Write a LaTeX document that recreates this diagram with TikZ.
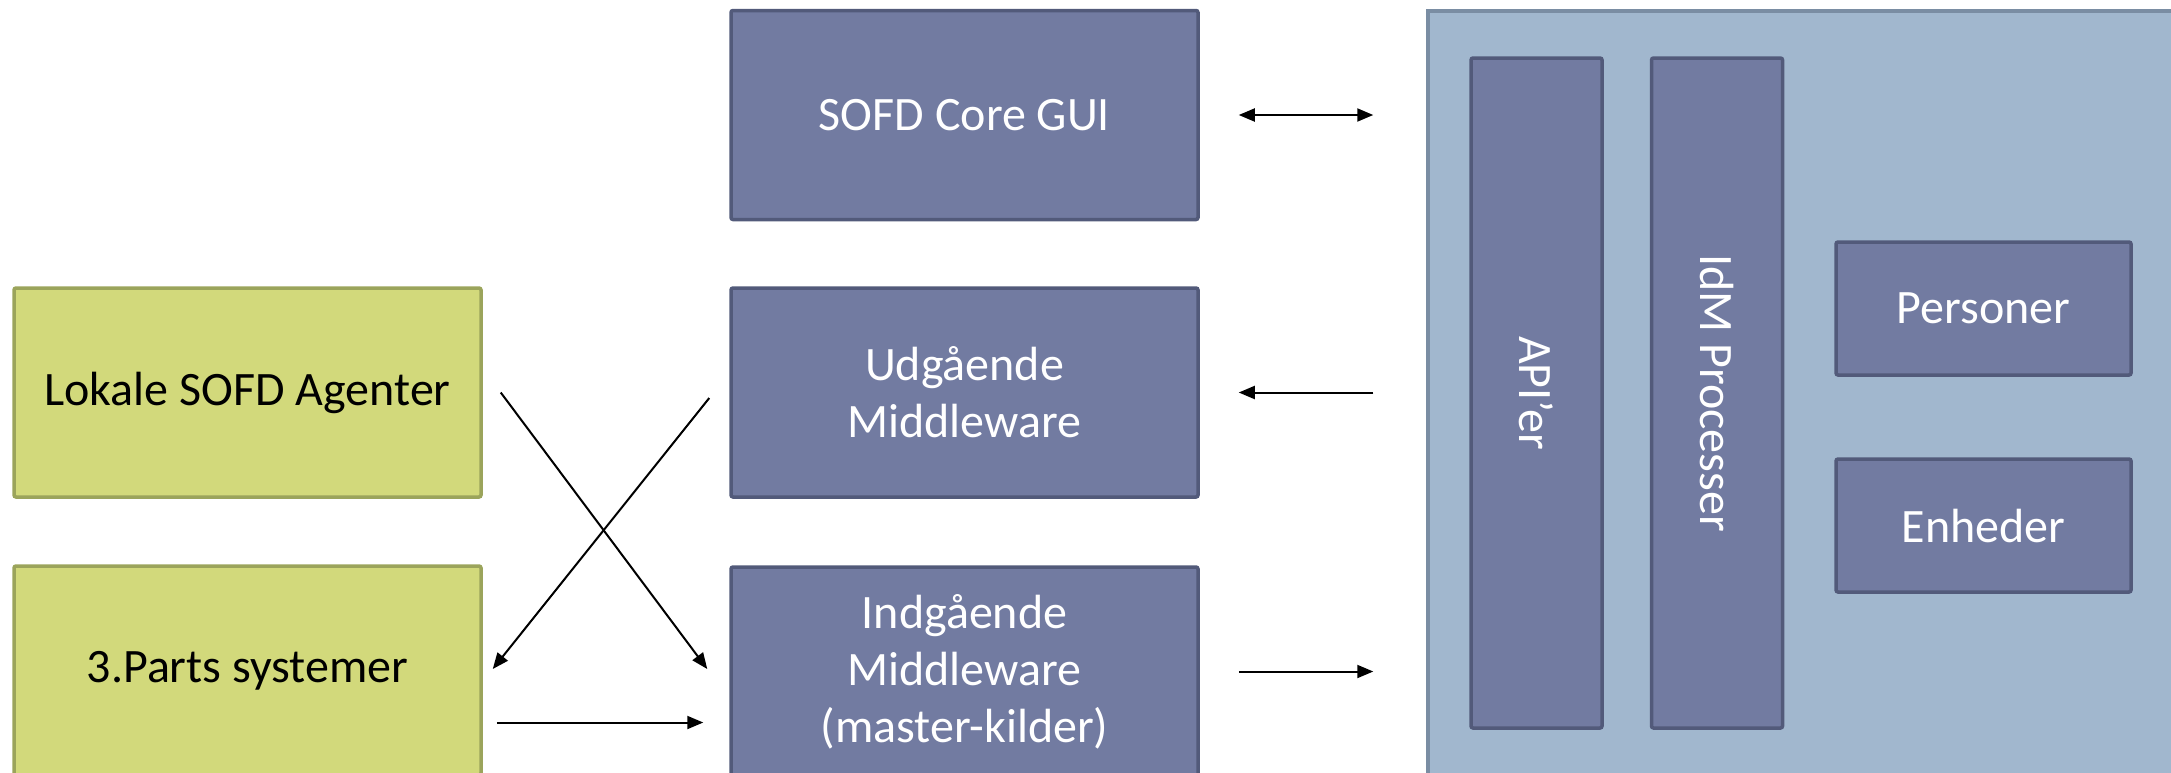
\documentclass[tikz,border=0pt]{standalone}
\usepackage{fontspec}
\setmainfont{Carlito}
\usetikzlibrary{arrows}
\usetikzlibrary{arrows.meta}

\definecolor{slatefill}{RGB}{114,123,161}
\definecolor{slateline}{RGB}{82,90,122}
\definecolor{corefill}{RGB}{161,183,206}
\definecolor{coreline}{RGB}{122,141,163}
\definecolor{agentfill}{RGB}{210,217,123}
\definecolor{agentline}{RGB}{155,164,91}

\tikzset{
    outerbox/.style = {draw=slateline, fill=slatefill, line width=1.75pt, rounded corners=1pt,
        minimum width=233.5pt, minimum height=104.5pt, text=white, align=center,
        font=\fontsize{24}{28.5}\selectfont},
    sourcebox/.style = {outerbox, draw=agentline, fill=agentfill, text=black},
    innerbox/.style = {outerbox, minimum width=147.5pt, minimum height=66.5pt},
    columnbox/.style = {outerbox, minimum width=65.5pt, minimum height=335pt},
}

\begin{document}
\begin{tikzpicture}[x=0.5pt, y=-0.5pt, >={Triangle[length=8pt,width=6.5pt]}, line width=1pt]
    \useasboundingbox (0,0) rectangle (2171,772);

    % left side systems
    \node[sourcebox] (lokale) at (247.5,392.5) {Lokale SOFD Agenter};
    \node[sourcebox] (parts) at (247.5,670.5) {3.Parts systemer};

    % middle column
    \node[outerbox] (gui) at (964.5,115) {SOFD Core GUI};
    \node[outerbox] (udg) at (964.5,392.5) {Udgående\\Middleware};
    \node[outerbox] (indg) at (964.5,671.5) {Indgående\\Middleware\\(master-kilder)};

    % sofd core block
    \node[draw=coreline, fill=corefill, line width=1.75pt, minimum width=378.5pt, minimum height=387pt] (sofd) at (1806.5,398) {};
    \node[columnbox] (api) at (1536.5,393) {};
    \node[rotate=-90, text=white, font=\fontsize{24}{28.5}\selectfont] at (api.center) {API’er};
    \node[columnbox] (idm) at (1717,393) {};
    \node[rotate=-90, text=white, font=\fontsize{24}{28.5}\selectfont] at (idm.center) {IdM Processer};
    \node[innerbox] (pers) at (1983.5,308.5) {Personer};
    \node[innerbox] (enh) at (1983.5,525.5) {Enheder};

    % arrows to and from the core
    \draw[<->, shorten <=19.5pt, shorten >=26.5pt] (gui.east) -- (gui.east -| sofd.west);
    \draw[->, shorten <=26.5pt, shorten >=19.5pt] (udg.east -| sofd.west) -- (udg.east);
    \draw[->, shorten <=19.5pt, shorten >=26.5pt] (indg.east) -- (indg.east -| sofd.west);

    % crossing arrows
    \draw[->] ([xshift=9pt]lokale.east) -- ([xshift=-11pt,yshift=1.25pt]indg.west);
    \draw[->] ([xshift=-10pt,yshift=-2.75pt]udg.west) -- ([xshift=5pt,yshift=0.75pt]parts.east);
    \draw[->, shorten <=7pt, shorten >=13pt] ([yshift=-26pt]parts.east) -- ([yshift=-26pt]parts.east -| indg.west);

\end{tikzpicture}
\end{document}
